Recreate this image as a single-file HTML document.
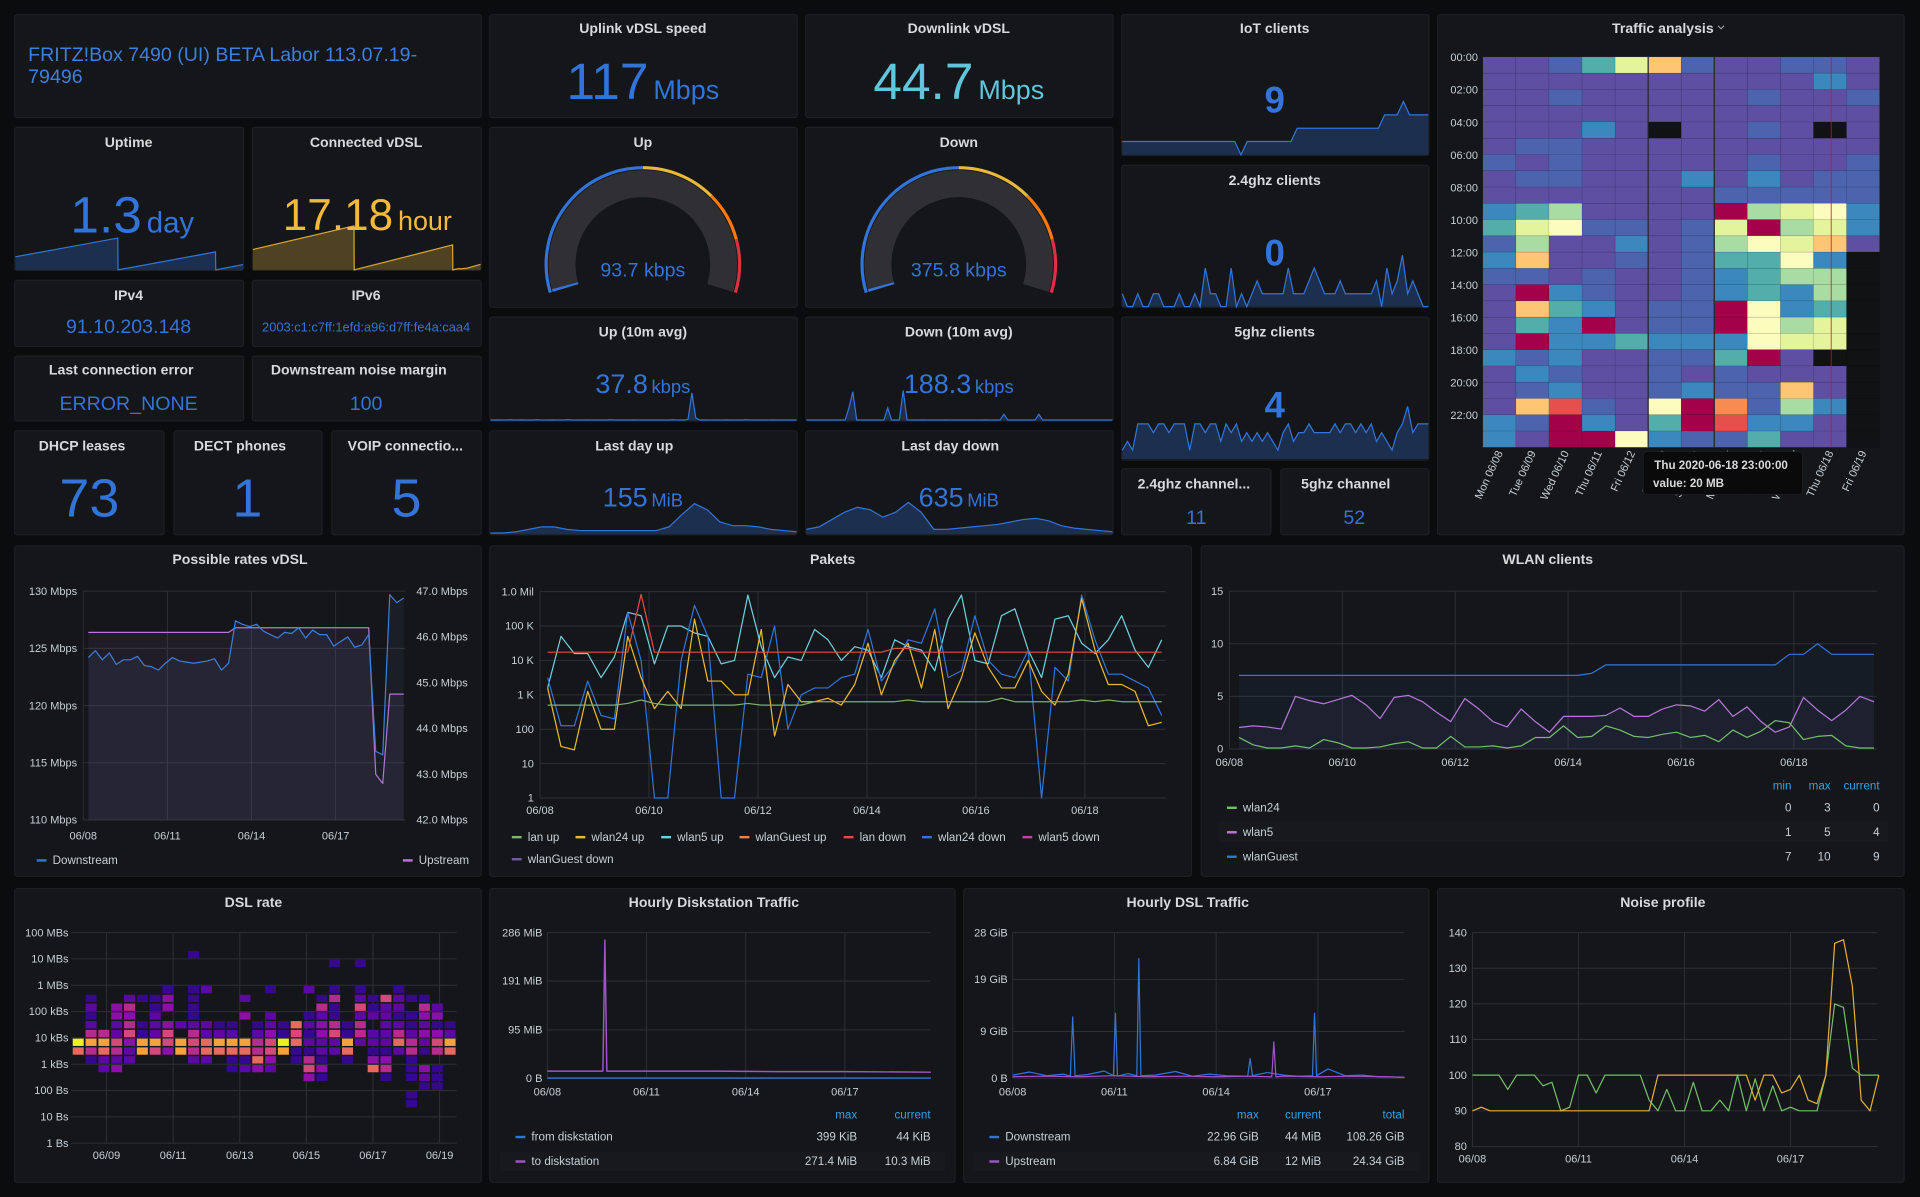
<!DOCTYPE html>
<html><head><meta charset="utf-8"><title>FRITZ!Box dashboard</title>
<style>
html,body{margin:0;padding:0;background:#0b0c0e;overflow:hidden}
svg{display:block;font-family:"Liberation Sans Narrow","Liberation Sans",sans-serif}
.pn{fill:#141619;stroke:#202226;stroke-width:0.8}
.pt{fill:#d8d9da;font-size:11.5px;font-weight:bold;text-anchor:middle}
.bv{fill:#3274d9;text-anchor:middle}
.ax{fill:#c7d0d9;font-size:9px}
.lg{fill:#c7d0d9;font-size:9.5px}
.lh{fill:#33a2e5;font-size:9.5px;text-anchor:end}
.lv{fill:#c7d0d9;font-size:9.5px;text-anchor:end}
</style></head><body>
<svg id="root" width="1920" height="1197" viewBox="0 0 1568 978" preserveAspectRatio="none" xmlns="http://www.w3.org/2000/svg">
<rect width="1568" height="978" fill="#0b0c0e"/>
<g>
<rect class="pn" x="12" y="12" width="381" height="84" rx="2"/>
<rect class="pn" x="400" y="12" width="251" height="84" rx="2"/>
<rect class="pn" x="658" y="12" width="251" height="84" rx="2"/>
<rect class="pn" x="916" y="12" width="251" height="115" rx="2"/>
<rect class="pn" x="1174" y="12" width="381" height="425" rx="2"/>
<rect class="pn" x="12" y="104" width="187" height="117" rx="2"/>
<rect class="pn" x="206" y="104" width="187" height="117" rx="2"/>
<rect class="pn" x="400" y="104" width="251" height="147" rx="2"/>
<rect class="pn" x="658" y="104" width="251" height="147" rx="2"/>
<rect class="pn" x="916" y="135" width="251" height="116" rx="2"/>
<rect class="pn" x="12" y="229" width="187" height="54" rx="2"/>
<rect class="pn" x="206" y="229" width="187" height="54" rx="2"/>
<rect class="pn" x="400" y="259" width="251" height="85" rx="2"/>
<rect class="pn" x="658" y="259" width="251" height="85" rx="2"/>
<rect class="pn" x="916" y="259" width="251" height="117" rx="2"/>
<rect class="pn" x="12" y="291" width="187" height="53" rx="2"/>
<rect class="pn" x="206" y="291" width="187" height="53" rx="2"/>
<rect class="pn" x="12" y="352" width="122" height="85" rx="2"/>
<rect class="pn" x="142" y="352" width="121" height="85" rx="2"/>
<rect class="pn" x="271" y="352" width="122" height="85" rx="2"/>
<rect class="pn" x="400" y="352" width="251" height="85" rx="2"/>
<rect class="pn" x="658" y="352" width="251" height="85" rx="2"/>
<rect class="pn" x="916" y="383" width="122" height="54" rx="2"/>
<rect class="pn" x="1046" y="383" width="121" height="54" rx="2"/>
<rect class="pn" x="12" y="446" width="381" height="270" rx="2"/>
<rect class="pn" x="400" y="446" width="573" height="270" rx="2"/>
<rect class="pn" x="981" y="446" width="574" height="270" rx="2"/>
<rect class="pn" x="12" y="726" width="381" height="240" rx="2"/>
<rect class="pn" x="400" y="726" width="380" height="240" rx="2"/>
<rect class="pn" x="787" y="726" width="380" height="240" rx="2"/>
<rect class="pn" x="1174" y="726" width="381" height="240" rx="2"/>
</g>
<g id="layer"></g>
<g>
<text class="pt" x="525" y="27">Uplink vDSL speed</text>
<text class="pt" x="783" y="27">Downlink vDSL</text>
<text class="pt" x="1041" y="27">IoT clients</text>
<text class="pt" x="1358" y="27">Traffic analysis</text>
<path d="M1403 21 l2.5 2.5 l2.5 -2.5" fill="none" stroke="#a0a4a8" stroke-width="0.9"/>
<text class="pt" x="105" y="120">Uptime</text>
<text class="pt" x="299" y="120">Connected vDSL</text>
<text class="pt" x="525" y="120">Up</text>
<text class="pt" x="783" y="120">Down</text>
<text class="pt" x="1041" y="151">2.4ghz clients</text>
<text class="pt" x="105" y="245">IPv4</text>
<text class="pt" x="299" y="245">IPv6</text>
<text class="pt" x="525" y="275">Up (10m avg)</text>
<text class="pt" x="783" y="275">Down (10m avg)</text>
<text class="pt" x="1041" y="275">5ghz clients</text>
<text class="pt" x="99" y="306">Last connection error</text>
<text class="pt" x="293" y="306">Downstream noise margin</text>
<text class="pt" x="67" y="368">DHCP leases</text>
<text class="pt" x="196" y="368">DECT phones</text>
<text class="pt" x="331" y="368">VOIP connectio...</text>
<text class="pt" x="518" y="368">Last day up</text>
<text class="pt" x="776" y="368">Last day down</text>
<text class="pt" x="975" y="399">2.4ghz channel...</text>
<text class="pt" x="1099" y="399">5ghz channel</text>
<text class="pt" x="196" y="461">Possible rates vDSL</text>
<text class="pt" x="680" y="461">Pakets</text>
<text class="pt" x="1264" y="461">WLAN clients</text>
<text class="pt" x="207" y="741">DSL rate</text>
<text class="pt" x="583" y="741">Hourly Diskstation Traffic</text>
<text class="pt" x="970" y="741">Hourly DSL Traffic</text>
<text class="pt" x="1358" y="741">Noise profile</text>
</g>
<g>
<text x="23" y="50" fill="#3d7fe0" font-size="16">FRITZ!Box 7490 (UI) BETA Labor 113.07.19-</text>
<text x="23" y="68" fill="#3d7fe0" font-size="16">79496</text>
<text class="bv" x="525" y="81"><tspan font-size="42">117</tspan><tspan font-size="22" dx="4">Mbps</tspan></text>
<text x="783" y="81" fill="#5fc6dc" text-anchor="middle"><tspan font-size="42">44.7</tspan><tspan font-size="22" dx="4">Mbps</tspan></text>
<text class="bv" x="1041" y="92" font-size="30" font-weight="bold">9</text>
<text class="bv" x="108" y="190"><tspan font-size="42">1.3</tspan><tspan font-size="24" dx="4">day</tspan></text>
<text x="300" y="188" fill="#f2b93b" text-anchor="middle"><tspan font-size="36">17.18</tspan><tspan font-size="22" dx="4">hour</tspan></text>
<text class="bv" x="105" y="272" font-size="16">91.10.203.148</text>
<text class="bv" x="299" y="271" font-size="10.5">2003:c1:c7ff:1efd:a96:d7ff:fe4a:caa4</text>
<text class="bv" x="105" y="335" font-size="16">ERROR_NONE</text>
<text class="bv" x="299" y="335" font-size="16">100</text>
<text class="bv" x="73" y="422" font-size="44">73</text>
<text class="bv" x="202" y="422" font-size="44">1</text>
<text class="bv" x="332" y="422" font-size="44">5</text>
<text class="bv" x="1041" y="217" font-size="30" font-weight="bold">0</text>
<text class="bv" x="1041" y="341" font-size="30" font-weight="bold">4</text>
<text class="bv" x="977" y="428" font-size="16">11</text>
<text class="bv" x="1106" y="428" font-size="16">52</text>
<text class="bv" x="525" y="226" font-size="16">93.7 kbps</text>
<text class="bv" x="783" y="226" font-size="16">375.8 kbps</text>
<text class="bv" x="525" y="321"><tspan font-size="22">37.8</tspan><tspan font-size="15" dx="3">kbps</tspan></text>
<text class="bv" x="783" y="321"><tspan font-size="22">188.3</tspan><tspan font-size="15" dx="3">kbps</tspan></text>
<text class="bv" x="525" y="414"><tspan font-size="22">155</tspan><tspan font-size="15" dx="3">MiB</tspan></text>
<text class="bv" x="783" y="414"><tspan font-size="22">635</tspan><tspan font-size="15" dx="3">MiB</tspan></text>
</g>
<g id="top"></g>
</svg>
<script>
// ---------- data ----------
const uptimeT=[0,0.45,0.451,0.879,0.88,1];
const uptimeV=[3.2,7.8,0,4.4,0,1.3];
const connT=[0,0.444,0.445,0.877,0.878,0.905,0.91,0.94,1];
const connV=[62,134,0,76,0,4,3,5,17];
const iotVals=[6,6,6,6,6,6,6,6,6,6,6,6,6,6,6,6,6,6,6,5,6,6,6,6,6,6,6,6,7,7,7,7,7,7,7,7,7,7,7,7,7,7,8,8,8,9,8,8,8,8];
const ghz24Vals=[1,0,0,1,0,0,1,1,0,0,0,1,0,0,1,0,3,1,1,0,0,3,0,1,0,1,2,1,1,1,1,1,3,1,1,1,2,3,2,1,1,1,2,1,1,1,1,1,1,2,0,3,1,2,4,1,2,1,0,0];
const ghz5Vals=[1,2,1,4,4,4,3,4,4,3,4,4,4,1,4,4,3,4,4,2,4,3,4,2,3,2,3,2,3,2,1,3,4,2,3,3,4,3,3,3,3,4,3,4,4,3,4,3,4,2,3,2,1,3,4,6,3,4,4,4];
const upAvgVals=[0.3,0.3,0.4,0.3,0.3,0.5,0.3,0.3,0.4,0.3,0.3,0.3,0.5,0.3,0.3,0.3,0.4,0.3,0.3,0.3,0.6,0.3,0.3,0.3,0.3,0.4,0.3,0.3,0.3,0.3,0.3,0.5,0.3,0.3,0.3,0.3,0.3,0.4,0.3,0.3,0.3,0.3,0.3,0.3,0.3,0.3,0.3,0.5,0.3,0.3,0.3,0.9,22,2,0.3,0.4,0.3,0.3,0.3,0.3,0.3,0.4,0.3,0.3,0.3,0.3,0.5,0.3,0.3,0.3,0.3,0.3,0.3,0.4,0.3,0.3,0.3,0.3,0.3,0.3];
const downAvgVals=[0.3,0.3,0.3,0.3,0.3,0.3,0.3,0.3,0.3,0.3,0.3,10,23,0.3,0.3,0.3,0.3,0.3,0.3,0.3,0.3,10,0.3,0.3,0.3,24,0.3,0.3,0.3,0.3,0.4,0.3,0.3,0.3,0.3,0.3,0.4,0.3,0.3,0.3,0.3,0.3,0.3,0.3,0.3,0.3,0.4,0.3,0.3,0.3,0.3,5,0.3,0.3,0.3,0.3,0.3,0.3,0.3,0.3,5,0.3,0.3,0.3,0.3,0.3,0.3,0.3,0.3,0.3,0.3,0.3,0.3,0.3,0.3,0.3,0.3,0.3,0.3,0.3];
const lastUpVals=[1,1,2,4,6,6,4,3,3,3,3,3,3,3,6,16,25,20,10,7,7,6,4,3,2];
const lastDownVals=[4,6,12,18,22,20,14,18,26,18,4,4,5,6,7,8,10,12,13,11,7,5,4,3,2];
const gaugeUpValue=93.7, gaugeUpMax=12000;
const gaugeDownValue=375.8, gaugeDownMax=48000;

const trafficDays=['Mon 06/08','Tue 06/09','Wed 06/10','Thu 06/11','Fri 06/12','Sat 06/13','Sun 06/14','Mon 06/15','Tue 06/16','Wed 06/17','Thu 06/18','Fri 06/19'];
const trafficHours=['00:00','02:00','04:00','06:00','08:00','10:00','12:00','14:00','16:00','18:00','20:00','22:00'];
const trafficRows=[
[0,0,1,3,5,7,1,0,0,1,1,0],[0,0,0,0,0,0,0,0,0,0,2,0],[0,0,1,0,0,0,0,0,1,0,0,1],[0,0,0,0,0,0,0,0,0,0,0,0],
[0,0,0,2,0,-1,0,0,1,0,-1,0],[0,1,1,0,0,0,0,0,0,0,0,0],[1,0,1,0,0,0,0,0,1,0,0,1],[0,1,1,0,0,0,2,0,2,0,1,1],
[0,0,0,0,0,0,0,1,1,1,1,1],[2,3,4,0,0,0,0,10,4,5,6,2],[3,5,6,1,1,0,1,5,10,4,5,2],[1,4,0,0,2,0,1,4,6,5,7,0],
[2,7,0,0,1,0,1,3,3,6,2,-1],[1,1,0,1,0,0,1,2,3,4,4,-1],[0,10,2,1,0,0,1,2,3,2,4,-1],[0,7,3,2,0,1,1,10,6,2,3,-1],
[0,3,2,10,0,1,1,10,6,4,5,-1],[0,10,2,2,3,2,2,2,6,5,5,-1],[2,1,2,0,0,1,1,3,10,0,-1,-1],[0,2,1,0,0,1,0,1,0,0,0,-1],
[0,1,2,0,0,1,2,1,1,7,0,-1],[0,7,9,1,0,6,10,8,1,4,2,-1],[2,1,10,2,0,3,10,9,2,2,0,-1],[2,0,10,10,6,2,1,1,3,0,0,-1]];

const rateDays=[0.18,0.43,0.68,0.93,1.18,1.43,1.68,1.93,2.18,2.43,2.68,2.93,3.18,3.43,3.68,3.93,4.18,4.43,4.68,4.93,5.18,5.43,5.68,5.93,6.18,6.43,6.68,6.93,7.18,7.43,7.68,7.93,8.18,8.43,8.68,8.93,9.18,9.43,9.68,9.93,10.18,10.43,10.68,10.93,11.18,11.43];
const rateDown=[124.2,124.8,124.0,124.6,123.6,124.0,124.0,124.3,123.5,123.4,123.1,123.7,124.2,123.9,123.8,123.7,123.8,123.9,124.1,123.1,123.7,127.4,127.1,126.9,127.1,126.5,126.2,125.9,126.4,126.3,126.8,125.9,126.6,126.2,126.2,125.2,125.6,126.0,125.1,125.3,126.2,116.0,115.7,129.7,129.0,129.4];
const rateUp=[46.1,46.1,46.1,46.1,46.1,46.1,46.1,46.1,46.1,46.1,46.1,46.1,46.1,46.1,46.1,46.1,46.1,46.1,46.1,46.1,46.1,46.2,46.2,46.2,46.2,46.2,46.2,46.2,46.2,46.2,46.2,46.2,46.2,46.2,46.2,46.2,46.2,46.2,46.2,46.2,46.2,43.0,42.8,44.75,44.75,44.75];
const rateLeftTicks=['130 Mbps','125 Mbps','120 Mbps','115 Mbps','110 Mbps'];
const rateLeftVals=[130,125,120,115,110];
const rateRightTicks=['47.0 Mbps','46.0 Mbps','45.0 Mbps','44.0 Mbps','43.0 Mbps','42.0 Mbps'];
const rateRightVals=[47,46,45,44,43,42];
const rateXTicks=['06/08','06/11','06/14','06/17'];
const rateXDays=[0,3,6,9];

const pakLanUp=[2.7,2.7,2.7,2.7,2.7,2.7,2.75,2.85,2.75,2.7,2.7,2.7,2.7,2.7,2.7,2.75,2.7,2.7,2.7,2.7,2.8,2.8,2.8,2.8,2.8,2.8,2.8,2.85,2.8,2.8,2.8,2.8,2.8,2.8,2.9,2.8,2.8,2.8,2.8,2.8,2.85,2.8,2.85,2.8,2.8,2.8,2.8];
const pakWlan24Up=[3.2,1.5,1.4,3.1,2.0,2.0,4.7,3.5,2.6,3.1,2.6,5.2,3.4,3.4,3.0,3.0,4.9,1.8,3.3,2.8,2.8,2.9,2.7,3.3,4.5,3.0,4.0,4.5,3.2,4.9,2.6,3.5,4.8,3.8,3.2,3.2,4.0,3.1,2.7,3.6,5.8,4.3,3.3,3.3,3.1,2.1,2.2];
const pakWlan5Up=[3.2,4.7,4.2,4.2,3.5,4.1,5.4,5.3,3.9,5.0,5.0,4.8,4.7,3.9,4.0,5.9,4.4,3.5,4.1,4.0,4.9,4.6,4.0,4.4,4.3,3.5,4.6,4.4,4.3,3.7,5.2,5.9,4.0,3.9,5.3,5.5,4.3,3.5,5.2,5.3,4.5,4.2,4.6,5.3,4.3,3.8,4.6];
const pakLanDown=[4.24,4.24,4.24,4.24,4.24,4.24,4.24,5.92,4.24,4.24,4.24,4.24,4.24,4.24,4.24,4.24,4.24,4.24,4.24,4.24,4.24,4.24,4.24,4.24,4.24,4.24,4.35,4.35,4.24,4.24,4.24,4.24,4.24,4.24,4.24,4.24,4.24,4.24,4.24,4.24,4.24,4.24,4.24,4.24,4.24,4.24,4.24];
const pakWlan24Down=[3.5,2.1,2.1,3.4,2.4,2.3,5.4,4.0,0,0,4.0,5.6,4.7,0,0,3.6,3.5,5.0,2.0,3.0,3.2,3.2,3.5,3.6,4.9,3.4,3.9,4.6,4.5,5.5,3.5,3.7,5.3,4.0,3.6,3.5,4.3,0,3.8,3.4,5.9,4.6,3.6,3.6,3.4,3.2,2.4];
const pakTicks=['1.0 Mil','100 K','10 K','1 K','100','10','1'];
const pakTickVals=[6,5,4,3,2,1,0];
const pakXTicks=['06/08','06/10','06/12','06/14','06/16','06/18'];
const pakXDays=[0,2,4,6,8,10];

const wlanDays=[0.17,0.42,0.67,0.92,1.17,1.42,1.67,1.92,2.17,2.42,2.67,2.92,3.17,3.42,3.67,3.92,4.17,4.42,4.67,4.92,5.17,5.42,5.67,5.92,6.17,6.42,6.67,6.92,7.17,7.42,7.67,7.92,8.17,8.42,8.67,8.92,9.17,9.42,9.67,9.92,10.17,10.42,10.67,10.92,11.17,11.42];
const wlan24=[1.1,0.4,0.1,0.1,0.3,0.1,0.9,0.6,0.1,0.1,0.2,0.5,0.7,0.1,0.1,1.2,0.2,0.2,0.3,0.1,0.3,1.1,1.1,2.2,1.1,1.2,2.2,1.8,1.2,1.1,1.4,1.6,1.1,1.3,0.7,1.8,1.1,1.7,2.7,2.5,0.9,1.2,1.3,0.3,0.1,0.1];
const wlan5=[2.05,2.2,2.1,1.9,5.0,4.6,4.3,4.7,5.1,4.2,2.9,4.9,5.1,4.5,3.5,2.6,4.8,3.8,2.6,2.1,3.8,2.6,1.6,3.1,3.1,3.1,3.2,3.9,3.1,3.1,3.8,4.2,4.1,3.6,4.7,3.1,4.0,2.6,1.6,2.1,4.9,3.7,2.7,3.7,5.0,4.5];
const wlanGuest=[7,7,7,7,7,7,7,7,7,7,7,7,7,7,7,7,7,7,7,7,7,7,7,7,7,7.2,8,8,8,8,8,8,8,8,8,8,8,8,8,9,9,10,9,9,9,9];
const wlanTicks=['15','10','5','0'];
const wlanTickVals=[15,10,5,0];
const wlanXTicks=['06/08','06/10','06/12','06/14','06/16','06/18'];
const wlanXDays=[0,2,4,6,8,10];

const dslRateCols=["000000680000000000","000001474212100000","000022674000000000","000032452233000000","000002235434200000","000000771100100000","000000572221100000","000000355303310000","000000770200000000","000002454211110001","000002662200020000","000000672100000000","000011672100000000","000021670030200000","000036442100000000","000023553220010000","000000781100000000","000001165600000000","000354121210020000","000131223324100000","000000225411410010","000001671100000000","000000024425210010","000063122021100000","000143122222500000","000000264212210000","110111442110100000","001230123234100000","001110453132000000","000000672100000000"];
const dslRateTicks=['100 MBs','10 MBs','1 MBs','100 kBs','10 kBs','1 kBs','100 Bs','10 Bs','1 Bs'];
const dslRateTickVals=[8,7,6,5,4,3,2,1,0];
const dslRateXTicks=['06/09','06/11','06/13','06/15','06/17','06/19'];
const dslRateXDays=[1,3,5,7,9,11];

const diskToDays=[0,1,1.68,1.74,1.8,3,5,7,9,11.6];
const diskToVals=[14,14,14,271.4,14,14,14,13,13,12];
const diskFromDays=[0,3,6,9,11.6];
const diskFromVals=[0.4,0.4,0.4,0.4,0.4];
const diskTicks=['286 MiB','191 MiB','95 MiB','0 B'];
const diskTickVals=[286,191,95,0];
const diskXTicks=['06/08','06/11','06/14','06/17'];
const diskXDays=[0,3,6,9];

const dslDownDays=[0,0.5,1,1.5,1.7,1.77,1.84,2.2,2.7,2.97,3.03,3.09,3.4,3.66,3.72,3.78,4.2,4.8,5.3,5.8,6.3,6.93,7.0,7.07,7.5,8.0,8.4,8.84,8.9,8.96,9.3,9.8,10.3,10.8,11.55];
const dslDownVals=[0.6,1.2,0.5,0.8,0.4,11.8,0.5,0.7,1.4,0.5,12.5,0.4,0.9,0.5,23,0.5,0.6,1.3,0.4,0.8,0.5,0.4,3.8,0.5,1.1,0.6,0.4,0.5,12.5,0.5,1.8,0.5,0.6,0.3,0.2];
const dslUpDays=[0,1,2,3,4,5,6,7,7.64,7.7,7.76,8,9,10,11,11.55];
const dslUpVals=[0.3,0.4,0.3,0.5,0.3,0.4,0.3,0.4,0.3,7,0.3,0.4,0.3,0.4,0.3,0.2];
const dslTicks=['28 GiB','19 GiB','9 GiB','0 B'];
const dslTickVals=[28,19,9,0];
const dslXTicks=['06/08','06/11','06/14','06/17'];
const dslXDays=[0,3,6,9];

const noiseGreen=[100,100,100,100,96,100,100,100,97,98,90,91,100,100,95,100,100,100,100,100,93,90,96,90,90,98,90,90,93,90,100,90,99,90,97,90,91,90,90,90,100,120,119,102,100,100,100];
const noiseYellow=[90,91,90,90,90,90,90,90,90,90,90,90,90,90,90,90,90,90,90,90,90,100,100,100,100,100,100,100,100,100,100,100,93,100,100,95,96,100,93,92,100,137,138,125,93,90,100];
const noiseTicks=['140','130','120','110','100','90','80'];
const noiseTickVals=[140,130,120,110,100,90,80];
const noiseXTicks=['06/08','06/11','06/14','06/17'];
const noiseXDays=[0,3,6,9];

// ---------- helpers ----------
const NS='http://www.w3.org/2000/svg';
const layer=document.getElementById('layer');
const topL=document.getElementById('top');
function mk(tag,attrs,parent){const e=document.createElementNS(NS,tag);for(const k in attrs)e.setAttribute(k,attrs[k]);(parent||layer).appendChild(e);return e;}
function tx(s,x,y,attrs,parent){const e=mk('text',Object.assign({x:x,y:y},attrs||{}),parent);e.textContent=s;return e;}
function pth(pts){return pts.map((p,i)=>(i?'L':'M')+p[0].toFixed(2)+' '+p[1].toFixed(2)).join(' ');}
const BLUE='#3274d9';

function spark(name,x0,x1,yb,yt,vmin,vmax,vals,ts,stroke,fill){
  const n=vals.length;
  const pts=vals.map((v,i)=>[x0+(x1-x0)*(ts?ts[i]:i/(n-1)), yb-(v-vmin)/(vmax-vmin)*(yb-yt)]);
  const a=mk('path',{d:pth(pts)+' L'+x1+' '+yb+' L'+x0+' '+yb+' Z',fill:fill,stroke:'none'});
  
  
  const l=mk('path',{d:pth(pts),fill:'none',stroke:stroke,'stroke-width':1});
  
  
}
const SF='rgba(50,116,217,0.28)';
spark('uptime-sparkline',12.5,198.5,220.5,190.5,0,9,uptimeV,uptimeT,BLUE,SF);
spark('connected-sparkline',206.5,392.5,220.5,183,0,140,connV,connT,'#d6a532','rgba(234,184,57,0.28)');
spark('iot-sparkline',916.5,1166.5,126.5,83,5,9,iotVals,null,BLUE,SF);
spark('clients-24ghz-sparkline',916.5,1166.5,250.5,208.5,0,4,ghz24Vals,null,BLUE,SF);
spark('clients-5ghz-sparkline',916.5,1166.5,375,332,0,6,ghz5Vals,null,BLUE,SF);
spark('up-avg-sparkline',400.5,650.5,343.5,318,0,25,upAvgVals,null,BLUE,SF);
spark('down-avg-sparkline',658.5,908.5,343.5,318,0,25,downAvgVals,null,BLUE,SF);
spark('last-day-up-sparkline',400.5,650.5,436.5,406.5,0,30,lastUpVals,null,BLUE,SF);
spark('last-day-down-sparkline',658.5,908.5,436.5,406.5,0,30,lastDownVals,null,BLUE,SF);

// ---------- gauges ----------
function arcD(cx,cy,r,a0,a1){const p=a=>[cx+r*Math.sin(a*Math.PI/180),cy-r*Math.cos(a*Math.PI/180)];const s=p(a0),e=p(a1);return 'M'+s[0].toFixed(2)+' '+s[1].toFixed(2)+' A'+r+' '+r+' 0 '+((a1-a0)>180?1:0)+' 1 '+e[0].toFixed(2)+' '+e[1].toFixed(2);}
function gauge(name,cx,cy,val,max){
  const SP=107;
  const band=mk('path',{d:arcD(cx,cy,66,-SP,SP),fill:'none',stroke:'#303034','stroke-width':22});
  
  
  const va=-SP+2*SP*Math.min(1,val/max);
  const fillArc=mk('path',{d:arcD(cx,cy,66,-SP,Math.max(va,-SP+0.6)),fill:'none',stroke:BLUE,'stroke-width':22});
  
  
  const th=[[-SP,0,'#3274d9'],[0,45,'#eab839'],[45,75,'#ff780a'],[75,SP,'#e02f44']];
  th.forEach(t=>{
    const a=mk('path',{d:arcD(cx,cy,79,t[0],t[1]),fill:'none',stroke:t[2],'stroke-width':2.6});
    
    
  });
}
gauge('up-gauge',525,216,gaugeUpValue,gaugeUpMax);
gauge('down-gauge',783,216,gaugeDownValue,gaugeDownMax);

// ---------- traffic heatmap ----------
const hmColors=['#5e4fa2','#4c63ae','#3b88be','#52adab','#a8dca3','#e3f49c','#fcfcbf','#fdc574','#f68c4f','#e5504a','#a3024a'];
(function(){
  const x0=1211,cw=27,y0=46.5,rh=13.29;
  trafficRows.forEach((row,r)=>{row.forEach((v,c)=>{
    const cell=mk('rect',{x:x0+c*cw,y:y0+r*rh,width:cw,height:rh,fill:v<0?'#111214':hmColors[v],stroke:'rgba(0,0,0,0.12)','stroke-width':0.5});
    
    
  });});
  [5,7].forEach(c=>{const l=mk('line',{x1:x0+c*cw,y1:y0,x2:x0+c*cw,y2:y0+24*rh,stroke:'#26262a','stroke-width':1});
    
    });
  const cur=mk('line',{x1:x0+10.5*cw+1,y1:y0,x2:x0+10.5*cw+1,y2:y0+24*rh,stroke:'#c4162a','stroke-width':0.8,opacity:0.8});
  
  
  trafficHours.forEach((h,i)=>{const t=tx(h,1207,y0+i*2*rh+3.5,{class:'ax','text-anchor':'end'});
    
    });
  trafficDays.forEach((d,i)=>{const cx=x0+i*cw+cw/2+3,cy=370;const t=tx(d,cx,cy,{class:'ax','text-anchor':'end',transform:'rotate(-65 '+cx+' '+cy+')'});
    
    });
})();
(function(){
  const tip=mk('rect',{x:1342,y:369,width:130,height:35,rx:3,fill:'#0a0a0b',stroke:'#202024','stroke-width':0.6},topL);
  
  
  const t1=tx('Thu 2020-06-18 23:00:00',1351,383,{fill:'#d8d9da','font-size':'9.5px','font-weight':'bold'},topL);
  
  
  const t2=tx('value: 20 MB',1350,398,{fill:'#d8d9da','font-size':'9.5px','font-weight':'bold'},topL);
  
  
})();

// ---------- generic axis helpers ----------
function hgrid(name,x0,x1,ys){ys.forEach(y=>{const l=mk('line',{x1:x0,y1:y,x2:x1,y2:y,stroke:'#2c3035','stroke-width':0.8});
  
  });}
function vgrid(name,xs,y0,y1){xs.forEach(x=>{const l=mk('line',{x1:x,y1:y0,x2:x,y2:y1,stroke:'#2c3035','stroke-width':0.8});
  
  });}
function ylabels(name,labels,ys,x,anchor){labels.forEach((s,i)=>{const t=tx(s,x,ys[i]+3,{class:'ax','text-anchor':anchor});
  
  });}
function xlabels(name,labels,xs,y){labels.forEach((s,i)=>{const t=tx(s,xs[i],y,{class:'ax','text-anchor':'middle'});
  
  });}
function series(name,xs,ys,color,w,fill,yb){
  const pts=xs.map((x,i)=>[x,ys[i]]);
  if(fill){const a=mk('path',{d:pth(pts)+' L'+pts[pts.length-1][0]+' '+yb+' L'+pts[0][0]+' '+yb+' Z',fill:fill,stroke:'none'});
    
    }
  const l=mk('path',{d:pth(pts),fill:'none',stroke:color,'stroke-width':w||1,'stroke-linejoin':'round'});
  
  
}
function legend(name,label,color,x,y){
  const d=mk('line',{x1:x,y1:y-3,x2:x+8,y2:y-3,stroke:color,'stroke-width':2});
  
  
  const t=tx(label,x+13,y,{class:'lg'});
  
  
}

// ---------- possible rates ----------
(function(){
  const X=d=>68+d*22.9, YL=v=>670-(v-110)*9.35, YR=v=>670-(v-42)*37.4;
  hgrid('rates',68,331,rateLeftVals.map(YL));
  vgrid('rates',rateXDays.map(X),483,670);
  ylabels('rates-left',rateLeftTicks,rateLeftVals.map(YL),63,'end');
  ylabels('rates-right',rateRightTicks,rateRightVals.map(YR),340,'start');
  xlabels('rates-x',rateXTicks,rateXDays.map(X),686);
  series('upstream',rateDays.map(X),rateUp.map(YR),'#b877d9',1,'rgba(184,119,217,0.08)',670);
  series('downstream',rateDays.map(X),rateDown.map(YL),'#3d7ddb',1,'rgba(90,110,160,0.10)',670);
  legend('downstream','Downstream','#3274d9',30,706);
  legend('upstream','Upstream','#b877d9',329,706);
})();

// ---------- pakets ----------
(function(){
  const X=d=>441+d*44.5, Y=v=>652-v*28.1;
  const days=pakLanUp.map((_,i)=>0.14+i*0.245);
  hgrid('pakets',441,952,pakTickVals.map(Y));
  vgrid('pakets',pakXDays.map(X),483,652);
  ylabels('pakets-y',pakTicks,pakTickVals.map(Y),436,'end');
  xlabels('pakets-x',pakXTicks,pakXDays.map(X),665);
  series('wlan5-up',days.map(X),pakWlan5Up.map(Y),'#6ed0e0',1);
  series('wlan24-down',days.map(X),pakWlan24Down.map(Y),'#3274d9',1);
  series('wlan24-up',days.map(X),pakWlan24Up.map(Y),'#eab839',1);
  series('lan-down',days.map(X),pakLanDown.map(Y),'#e24d42',1);
  series('lan-up',days.map(X),pakLanUp.map(Y),'#7eb26d',1);
  legend('lan-up','lan up','#7eb26d',418,687);
  legend('wlan24-up','wlan24 up','#eab839',470,687);
  legend('wlan5-up','wlan5 up','#6ed0e0',540,687);
  legend('wlanguest-up','wlanGuest up','#ef843c',604,687);
  legend('lan-down','lan down','#e24d42',689,687);
  legend('wlan24-down','wlan24 down','#3274d9',753,687);
  legend('wlan5-down','wlan5 down','#ba43a9',835,687);
  legend('wlanguest-down','wlanGuest down','#705da0',418,705);
})();

// ---------- wlan clients ----------
(function(){
  const X=d=>1004+d*46.1, Y=v=>612-v*8.6;
  hgrid('wlan',1004,1533,wlanTickVals.map(Y));
  vgrid('wlan',wlanXDays.map(X),483,612);
  ylabels('wlan-y',wlanTicks,wlanTickVals.map(Y),999,'end');
  xlabels('wlan-x',wlanXTicks,wlanXDays.map(X),626);
  series('wlanguest',wlanDays.map(X),wlanGuest.map(Y),'#3274d9',1,'rgba(50,116,217,0.07)',612);
  series('wlan5',wlanDays.map(X),wlan5.map(Y),'#b877d9',1,'rgba(184,119,217,0.05)',612);
  series('wlan24',wlanDays.map(X),wlan24.map(Y),'#73bf69',1);
  const hdr=[['min',1463],['max',1495],['current',1535]];
  hdr.forEach(h=>{const t=tx(h[0],h[1],645,{class:'lh'});
    
    });
  const band=mk('rect',{x:995,y:671,width:547,height:17,fill:'#17191c'});
  
  
  const rows=[['wlan24','#73bf69',['0','3','0'],663],['wlan5','#b877d9',['1','5','4'],683],['wlanGuest','#3274d9',['7','10','9'],703]];
  rows.forEach(r=>{legend(r[0],r[0],r[1],1002,r[3]);
    r[2].forEach((v,i)=>{const t=tx(v,hdr[i][1],r[3],{class:'lv'});
      
      });});
})();

// ---------- DSL rate heatmap ----------
(function(){
  const Y=l=>934-l*21.5, X=d=>87+(d-1)*27.2;
  const plasma=['','#35088e','#5c08a3','#8b10a8','#b52c8e','#d4487a','#e76a60','#f7a13a','#f0ef24'];
  hgrid('dsl-rate',58,373,dslRateTickVals.map(Y));
  vgrid('dsl-rate',dslRateXDays.map(X),762,934);
  ylabels('dsl-rate-y',dslRateTicks,dslRateTickVals.map(Y),56,'end');
  xlabels('dsl-rate-x',dslRateXTicks,dslRateXDays.map(X),947);
  dslRateCols.forEach((col,i)=>{const cd=0.15+i*0.385;
    col.split('').forEach((ch,b)=>{const lv=+ch;if(!lv)return;
      const cl=1.5+b/3;
      const r=mk('rect',{x:X(cd)-4.5,y:Y(cl)-3,width:9,height:6,fill:plasma[lv]});
      
      });});
})();

// ---------- diskstation ----------
(function(){
  const X=d=>447+d*27, Y=v=>881-v*0.416;
  hgrid('disk',447,760,diskTickVals.map(Y));
  vgrid('disk',diskXDays.map(X),762,881);
  ylabels('disk-y',diskTicks,diskTickVals.map(Y),443,'end');
  xlabels('disk-x',diskXTicks,diskXDays.map(X),895);
  series('from-diskstation',diskFromDays.map(X),diskFromVals.map(Y),'#3274d9',1.2);
  series('to-diskstation',diskToDays.map(X),diskToVals.map(Y),'#a352cc',1.2);
  [['max',700],['current',760]].forEach(h=>{const t=tx(h[0],h[1],914,{class:'lh'});
    
    });
  const band=mk('rect',{x:408,y:941,width:364,height:16,fill:'#17191c'});
  
  
  [['from diskstation','#3274d9',['399 KiB','44 KiB'],932],['to diskstation','#a352cc',['271.4 MiB','10.3 MiB'],952]].forEach(r=>{
    legend(r[0],r[0],r[1],421,r[3]);
    r[2].forEach((v,i)=>{const t=tx(v,[700,760][i],r[3],{class:'lv'});
      
      });});
})();

// ---------- DSL traffic ----------
(function(){
  const X=d=>827+d*27.7, Y=v=>881-v*4.25;
  hgrid('dsl-traffic',827,1147,dslTickVals.map(Y));
  vgrid('dsl-traffic',dslXDays.map(X),762,881);
  ylabels('dsl-traffic-y',dslTicks,dslTickVals.map(Y),823,'end');
  xlabels('dsl-traffic-x',dslXTicks,dslXDays.map(X),895);
  series('dsl-downstream',dslDownDays.map(X),dslDownVals.map(Y),'#3274d9',1);
  series('dsl-upstream',dslUpDays.map(X),dslUpVals.map(Y),'#a352cc',1);
  [['max',1028],['current',1079],['total',1147]].forEach(h=>{const t=tx(h[0],h[1],914,{class:'lh'});
    
    });
  const band=mk('rect',{x:795,y:941,width:364,height:16,fill:'#17191c'});
  
  
  [['Downstream','#3274d9',['22.96 GiB','44 MiB','108.26 GiB'],932],['Upstream','#a352cc',['6.84 GiB','12 MiB','24.34 GiB'],952]].forEach(r=>{
    legend('dsl-'+r[0].toLowerCase(),r[0],r[1],808,r[3]);
    r[2].forEach((v,i)=>{const t=tx(v,[1028,1079,1147][i],r[3],{class:'lv'});
      
      });});
})();

// ---------- noise profile ----------
(function(){
  const X=d=>1202.5+d*28.86, Y=v=>936.7-(v-80)*2.912;
  const days=noiseGreen.map((_,i)=>i*0.25);
  hgrid('noise',1202,1533,noiseTickVals.map(Y));
  vgrid('noise',noiseXDays.map(X),762,937);
  ylabels('noise-y',noiseTicks,noiseTickVals.map(Y),1198,'end');
  xlabels('noise-x',noiseXTicks,noiseXDays.map(X),950);
  series('noise-green',days.map(X),noiseGreen.map(Y),'#73bf69',1);
  series('noise-yellow',days.map(X),noiseYellow.map(Y),'#e0b03a',1);
})();
</script>
</body></html>
